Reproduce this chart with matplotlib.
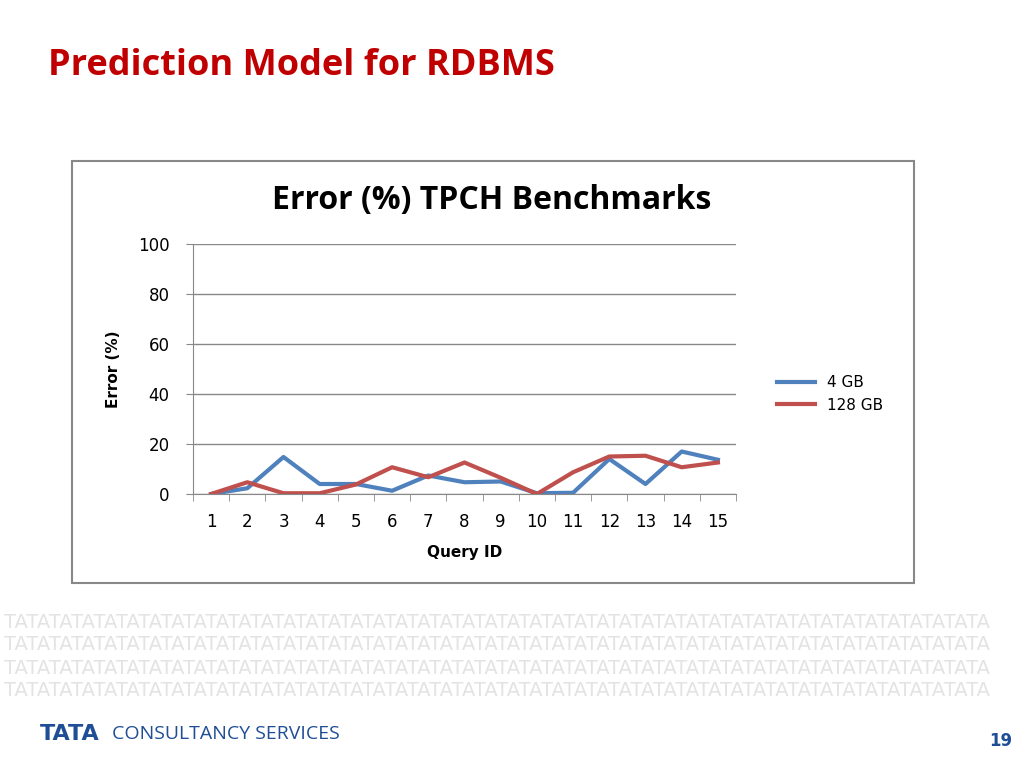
import matplotlib
matplotlib.use("Agg")
import matplotlib.pyplot as plt
from matplotlib.patches import Rectangle

query_ids = list(range(1, 16))
err_4gb = [0, 2.3, 14.8, 4, 4, 1.3, 7.4, 4.7, 5, 0.3, 0.5, 14, 4, 17, 13.7]
err_128gb = [0, 4.7, 0.3, 0.3, 3.8, 10.7, 6.7, 12.6, 6.5, 0, 8.7, 15, 15.3, 10.7, 12.6]
yticks = [0, 20, 40, 60, 80, 100]

fig = plt.figure(figsize=(10.24, 7.68), dpi=100)
fig.patch.set_facecolor("white")
W, H = 1024, 768
def fx(x): return x / W
def fy(y): return 1 - y / H

fig.text(fx(48), fy(66), "Prediction Model for RDBMS", color="#C00000", fontsize=26,
         fontweight="bold", family="Open Sans", va="center")

fig.patches.append(Rectangle((fx(72), fy(583)), fx(914) - fx(72), fy(161) - fy(583),
                             transform=fig.transFigure, fill=False, ec="#888888", lw=1.5))
fig.text(fx(492), fy(200), "Error (%) TPCH Benchmarks", fontsize=23, fontweight="bold",
         family="Open Sans", ha="center", va="center")

ax = fig.add_axes([fx(193), fy(494), fx(736) - fx(193), fy(244) - fy(494)])
x = list(range(len(query_ids)))
ax.plot(x, err_4gb, color="#4F81BD", lw=3, label="4 GB")
ax.plot(x, err_128gb, color="#C0504D", lw=3, label="128 GB")
ax.set_ylim(0, 100)
ax.set_xlim(-0.5, len(query_ids) - 0.5)
ax.set_yticks(yticks)
ax.set_xticks(x)
ax.set_xticklabels([str(q) for q in query_ids])
ax.set_xticks([i - 0.5 for i in range(len(query_ids) + 1)], minor=True)
ax.tick_params(axis="x", which="major", length=0, labelsize=12, pad=14)
ax.tick_params(axis="x", which="minor", length=5, color="#888888")
ax.tick_params(axis="y", length=5, labelsize=12, color="#888888", pad=12)
ax.grid(axis="y", color="#888888", lw=1)
for s in ["top", "right"]:
    ax.spines[s].set_visible(False)
for s in ["left", "bottom"]:
    ax.spines[s].set_color("#888888")
ax.set_xlabel("Query ID", fontsize=11, fontweight="bold", labelpad=10)
ax.set_ylabel("Error (%)", fontsize=11, fontweight="bold", labelpad=12)
ax.legend(loc="center left", bbox_to_anchor=(1.05, 0.4), frameon=False, fontsize=11,
          handlelength=2.5)

row = "TATA" * 22
for i, yy in enumerate([622, 645, 668, 691]):
    fig.text(fx(4), fy(yy), row, fontsize=14, color="#E3E3E3",
             family="DejaVu Sans", va="center")

fig.text(fx(40), fy(734), "TATA", fontsize=16, fontweight="bold", color="#1F4E96", va="center")
fig.text(fx(112), fy(734), "CONSULTANCY SERVICES", fontsize=14, color="#1F4E96",
         family="Open Sans", va="center")
fig.text(fx(1012), fy(741), "19", fontsize=12, fontweight="bold", color="#1F4E96",
         ha="right", va="center")

fig.savefig("out.png", dpi=100, facecolor="white")
